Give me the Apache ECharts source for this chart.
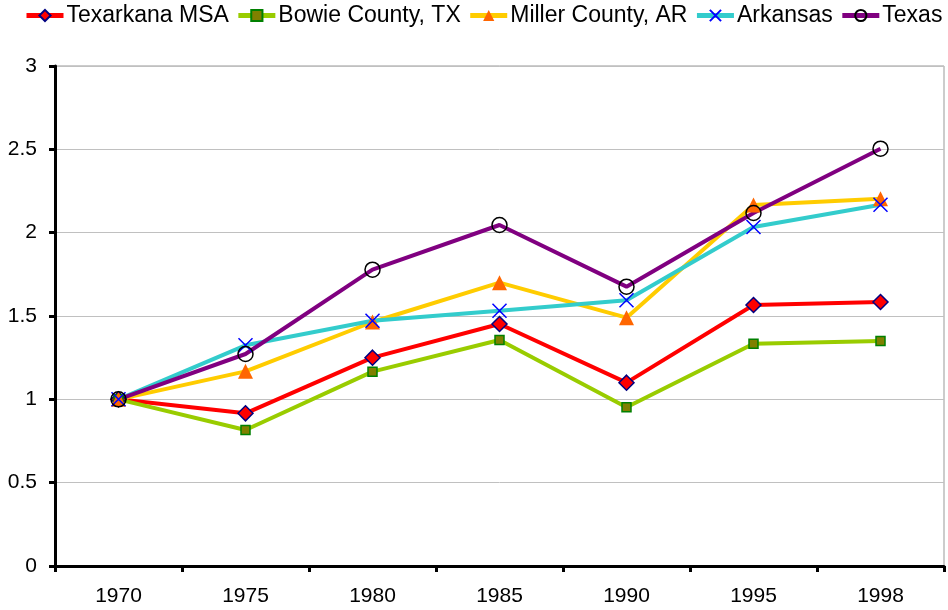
<!DOCTYPE html>
<html>
<head>
<meta charset="utf-8">
<script src="https://cdn.jsdelivr.net/npm/echarts@6/dist/echarts.min.js"></script>
<style>html,body{margin:0;padding:0;background:#fff}#c{width:948px;height:610px}</style>
</head>
<body>
<div id="c"></div>
<script>
var years = ['1970', '1975', '1980', '1985', '1990', '1995', '1998'];
var texarkana = [1.0, 0.916, 1.25, 1.452, 1.10, 1.566, 1.584];
var bowie = [1.0, 0.816, 1.166, 1.356, 0.952, 1.334, 1.35];
var miller = [1.0, 1.168, 1.464, 1.70, 1.49, 2.166, 2.204];
var arkansas = [1.0, 1.324, 1.472, 1.532, 1.594, 2.034, 2.168];
var texas = [1.0, 1.272, 1.778, 2.046, 1.676, 2.118, 2.504];
var yTicks = [0, 0.5, 1, 1.5, 2, 2.5, 3];

var font = 'Liberation Sans, Arial, sans-serif';
var chart = echarts.init(document.getElementById('c'));
function ser(name, data, lineColor, symbol, size, fill, border, bw) {
  return {
    name: name, type: 'line', data: data,
    symbol: symbol, symbolSize: size,
    lineStyle: {color: lineColor, width: 4},
    itemStyle: {color: fill, borderColor: border, borderWidth: bw},
    emphasis: {disabled: true},
    animation: false
  };
}
chart.setOption({
  animation: false,
  color: ['#FF0000', '#99CC00', '#FFCC00', '#33CCCC', '#800080'],
  legend: {
    top: 4, left: 24, width: 960, padding: 0, itemWidth: 37, itemHeight: 14, itemGap: 7,
    lineStyle: {width: 5},
    textStyle: {fontFamily: font, fontSize: 23, color: '#000', padding: [0, 0, 0, -2]},
    data: ['Texarkana MSA', 'Bowie County, TX', 'Miller County, AR', 'Arkansas', 'Texas']
  },
  grid: {left: 55, right: 4, top: 66, bottom: 44, show: true, borderColor: '#999', borderWidth: 1},
  xAxis: {
    type: 'category', data: years, boundaryGap: true,
    axisLine: {lineStyle: {color: '#000', width: 3}},
    axisTick: {show: true, length: 6, lineStyle: {color: '#000', width: 3}},
    axisLabel: {fontFamily: font, fontSize: 21, color: '#000', margin: 20},
    splitLine: {show: false}
  },
  yAxis: {
    type: 'value', min: yTicks[0], max: yTicks[yTicks.length - 1], interval: 0.5,
    axisLine: {show: true, lineStyle: {color: '#000', width: 3}},
    axisTick: {show: true, length: 6, lineStyle: {color: '#000', width: 3}},
    axisLabel: {fontFamily: font, fontSize: 21, color: '#000', margin: 18},
    splitLine: {show: true, lineStyle: {color: '#c0c0c0', width: 1}}
  },
  series: [
    ser('Texarkana MSA', texarkana, '#FF0000', 'diamond', 15, '#FF0000', '#000080', 1.5),
    ser('Bowie County, TX', bowie, '#99CC00', 'rect', 9, '#808000', '#008000', 1.5),
    ser('Miller County, AR', miller, '#FFCC00', 'triangle', 15, '#FF6600', '#FF6600', 0),
    ser('Arkansas', arkansas, '#33CCCC', 'path://M0,0L10,10M10,0L0,10', 14, 'rgba(0,0,0,0)', '#0000FF', 1.5),
    ser('Texas', texas, '#800080', 'circle', 15, 'rgba(0,0,0,0)', '#000000', 1.5)
  ]
});
</script>
</body>
</html>
